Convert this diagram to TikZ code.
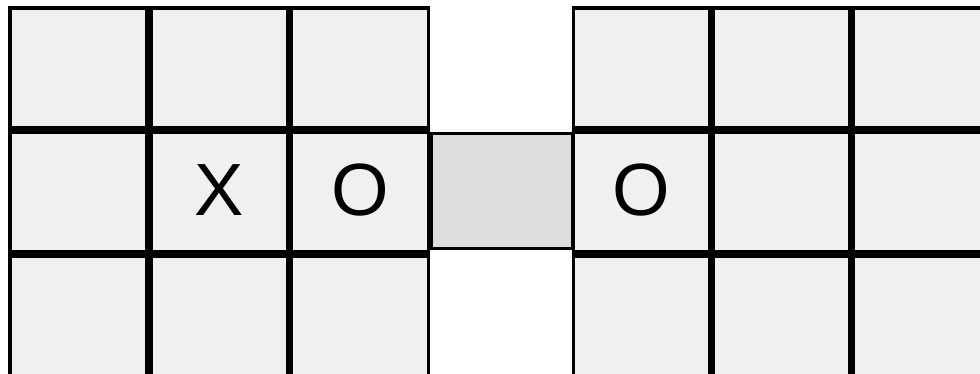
\documentclass[tikz,border=0pt]{standalone}
\usepackage{fontspec}
\setmainfont{Liberation Sans}
\definecolor{cellfill}{HTML}{F0F0F0}
\definecolor{midfill}{HTML}{DCDDDF}
\begin{document}
\begin{tikzpicture}[x=1pt,y=1pt,
  cell/.style={rectangle, draw=black, line width=3.75pt, fill=cellfill,
    inner sep=0pt, outer sep=0pt, minimum height=120.25pt,
    font=\fontsize{74}{74}\selectfont, text height=53pt, text depth=6pt},
  leftcell/.style={cell, minimum width=137.05pt},
  rightcell/.style={cell, minimum width=136.25pt},
  midcell/.style={rectangle, draw=black, line width=3.5pt, fill=midfill,
    inner sep=0pt, outer sep=0pt, minimum width=141.5pt, minimum height=115.4pt}]
\useasboundingbox (0,0) rectangle (980,-374);
\clip (0,0) rectangle (980,-374);
\fill[white] (0,0) rectangle (980,-374);
% left grid
\node[leftcell] (l11) at (78.4,-68) {};
\node[leftcell] (l12) at (219.2,-68) {};
\node[leftcell] (l13) at (360.0,-68) {};
\node[leftcell] (l21) at (78.4,-192) {};
\node[leftcell] (l22) at (219.2,-192) {X};
\node[leftcell] (l23) at (360.0,-192) {O};
\node[leftcell] (l31) at (78.4,-316) {};
\node[leftcell] (l32) at (219.2,-316) {};
\node[leftcell] (l33) at (360.0,-316) {};
% right grid
\node[rightcell] (r11) at (641.7,-68) {};
\node[rightcell] (r12) at (781.7,-68) {};
\node[rightcell] (r13) at (921.7,-68) {};
\node[rightcell] (r21) at (641.7,-192) {O};
\node[rightcell] (r22) at (781.7,-192) {};
\node[rightcell] (r23) at (921.7,-192) {};
\node[rightcell] (r31) at (641.7,-316) {};
\node[rightcell] (r32) at (781.7,-316) {};
\node[rightcell] (r33) at (921.7,-316) {};
% middle cell
\node[midcell] (mid) at (502,-191) {};
\end{tikzpicture}
\end{document}
